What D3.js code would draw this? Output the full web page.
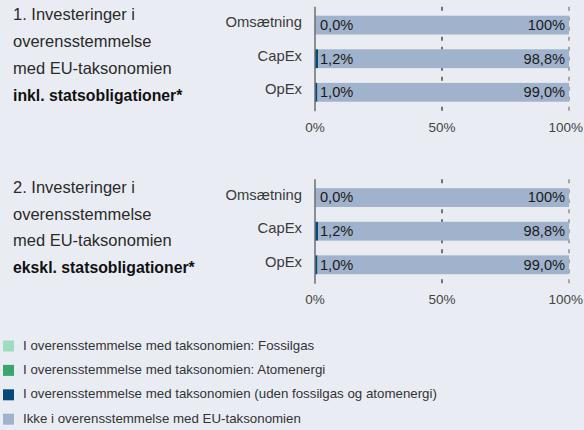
<!DOCTYPE html>
<html>
<head>
<meta charset="utf-8">
<script src="https://cdn.jsdelivr.net/npm/d3@7"></script>
<style>
  html, body { margin: 0; padding: 0; background: #e9edf3; }
  svg { display: block; font-family: "Liberation Sans", Arial, sans-serif; }
</style>
</head>
<body>
<svg id="chart" width="584" height="430"></svg>
<script>
// Categories and series
const categories = ["Omsætning", "CapEx", "OpEx"];
const panelTitles = [
  ["1. Investeringer i", "overensstemmelse", "med EU-taksonomien", "inkl. statsobligationer*"],
  ["2. Investeringer i", "overensstemmelse", "med EU-taksonomien", "ekskl. statsobligationer*"]
];
// Values per panel, in percent
const fossilgas1 = [0, 0, 0];
const atomenergi1 = [0, 0, 0];
const aligned1 = [0.0, 1.2, 1.0];
const notAligned1 = [100, 98.8, 99.0];
const fossilgas2 = [0, 0, 0];
const atomenergi2 = [0, 0, 0];
const aligned2 = [0.0, 1.2, 1.0];
const notAligned2 = [100, 98.8, 99.0];
const tickValues = [0, 50, 100];
const tickLabels = ["0%", "50%", "100%"];
const seriesNames = [
  "I overensstemmelse med taksonomien: Fossilgas",
  "I overensstemmelse med taksonomien: Atomenergi",
  "I overensstemmelse med taksonomien (uden fossilgas og atomenergi)",
  "Ikke i overensstemmelse med EU-taksonomien"
];
const seriesColors = ["#9ddcbc", "#3ba56e", "#064b78", "#a0b2cc"];

const panels = [
  { titles: panelTitles[0], series: [fossilgas1, atomenergi1, aligned1, notAligned1], top: 8.3 },
  { titles: panelTitles[1], series: [fossilgas2, atomenergi2, aligned2, notAligned2], top: 180.8 }
];

const W = 584;
const svg = d3.select("#chart");
const x = d3.scaleLinear().domain([0, 100]).range([315, 569]);
const fmt = v => v === 100 ? "100%" : d3.format(".1f")(v).replace(".", ",") + "%";

panels.forEach(p => {
  const y = d3.scaleBand().domain(categories)
    .range([p.top, p.top + 100.8]).paddingInner(0.44).paddingOuter(0.22);
  const g = svg.append("g");

  // Left-hand title block
  p.titles.forEach((line, i) => {
    g.append("text")
      .attr("x", 13).attr("y", p.top + 12 + i * 26.8)
      .attr("font-size", i === 3 ? 15.8 : 16.5)
      .attr("font-weight", i === 3 ? "bold" : "normal")
      .attr("fill", i === 3 ? "#111" : "#2a2a2a")
      .text(line);
  });

  // Dashed gridlines at 50% and 100%
  g.selectAll(".grid").data(tickValues.slice(1)).join("line")
    .attr("x1", d => x(d)).attr("x2", d => x(d))
    .attr("y1", p.top - 1.5).attr("y2", p.top + 103)
    .attr("stroke", d => d === 100 ? "#777" : "#222")
    .attr("stroke-width", 1.2)
    .attr("stroke-dasharray", "4,6");

  // Stacked bars
  const stacks = categories.map((c, i) => {
    let acc = 0;
    return p.series.map((s, k) => {
      const seg = { cat: c, k, x0: acc, x1: acc + s[i] };
      acc += s[i];
      return seg;
    });
  }).flat();
  g.selectAll(".bar").data(stacks.filter(d => d.x1 > d.x0)).join("rect")
    .attr("x", d => x(d.x0)).attr("width", d => x(d.x1) - x(d.x0))
    .attr("y", d => y(d.cat)).attr("height", y.bandwidth())
    .attr("fill", d => seriesColors[d.k]);

  // Axis base line
  g.append("line")
    .attr("x1", x(0)).attr("x2", x(0))
    .attr("y1", p.top - 1.5).attr("y2", p.top + 103)
    .attr("stroke", "#6e6e6e").attr("stroke-width", 1.5);

  // Category labels
  g.selectAll(".cat").data(categories).join("text")
    .attr("x", 302).attr("y", d => y(d) + y.bandwidth() / 2 - 2)
    .attr("text-anchor", "end").attr("dominant-baseline", "middle")
    .attr("font-size", 14.8).attr("fill", "#3a3a3a")
    .text(d => d);

  // Value labels: aligned share at left, remaining share at right
  const alignedIdx = 2, notIdx = 3;
  g.selectAll(".vl").data(categories).join("text")
    .attr("x", x(0) + 5).attr("y", d => y(d) + y.bandwidth() / 2 + 1)
    .attr("dominant-baseline", "middle")
    .attr("font-size", 14.6).attr("fill", "#1a1a1a")
    .text((d, i) => fmt(p.series[alignedIdx][i]));
  g.selectAll(".vr").data(categories).join("text")
    .attr("x", (d, i) => x(d3.sum(p.series, s => s[i])) - 4)
    .attr("y", d => y(d) + y.bandwidth() / 2 + 1)
    .attr("text-anchor", "end").attr("dominant-baseline", "middle")
    .attr("font-size", 14.6).attr("fill", "#1a1a1a")
    .text((d, i) => fmt(p.series[notIdx][i]));

  // Bottom axis tick labels (last one kept inside the canvas)
  g.selectAll(".tick").data(tickValues).join("text")
    .attr("x", d => d === 100 ? W - 1 : x(d)).attr("y", p.top + 120)
    .attr("text-anchor", d => d === 100 ? "end" : "middle")
    .attr("dominant-baseline", "middle")
    .attr("font-size", 13.5).attr("fill", "#444")
    .text((d, i) => tickLabels[i]);
});

// Legend
const leg = svg.append("g");
seriesNames.forEach((name, i) => {
  const cy = 346 + i * 24.4;
  leg.append("rect").attr("x", 3).attr("y", cy - 5.5).attr("width", 11).attr("height", 11)
    .attr("fill", seriesColors[i]);
  leg.append("text").attr("x", 23).attr("y", cy).attr("dominant-baseline", "middle")
    .attr("font-size", 13.3).attr("fill", "#333").text(name);
});
</script>
</body>
</html>
